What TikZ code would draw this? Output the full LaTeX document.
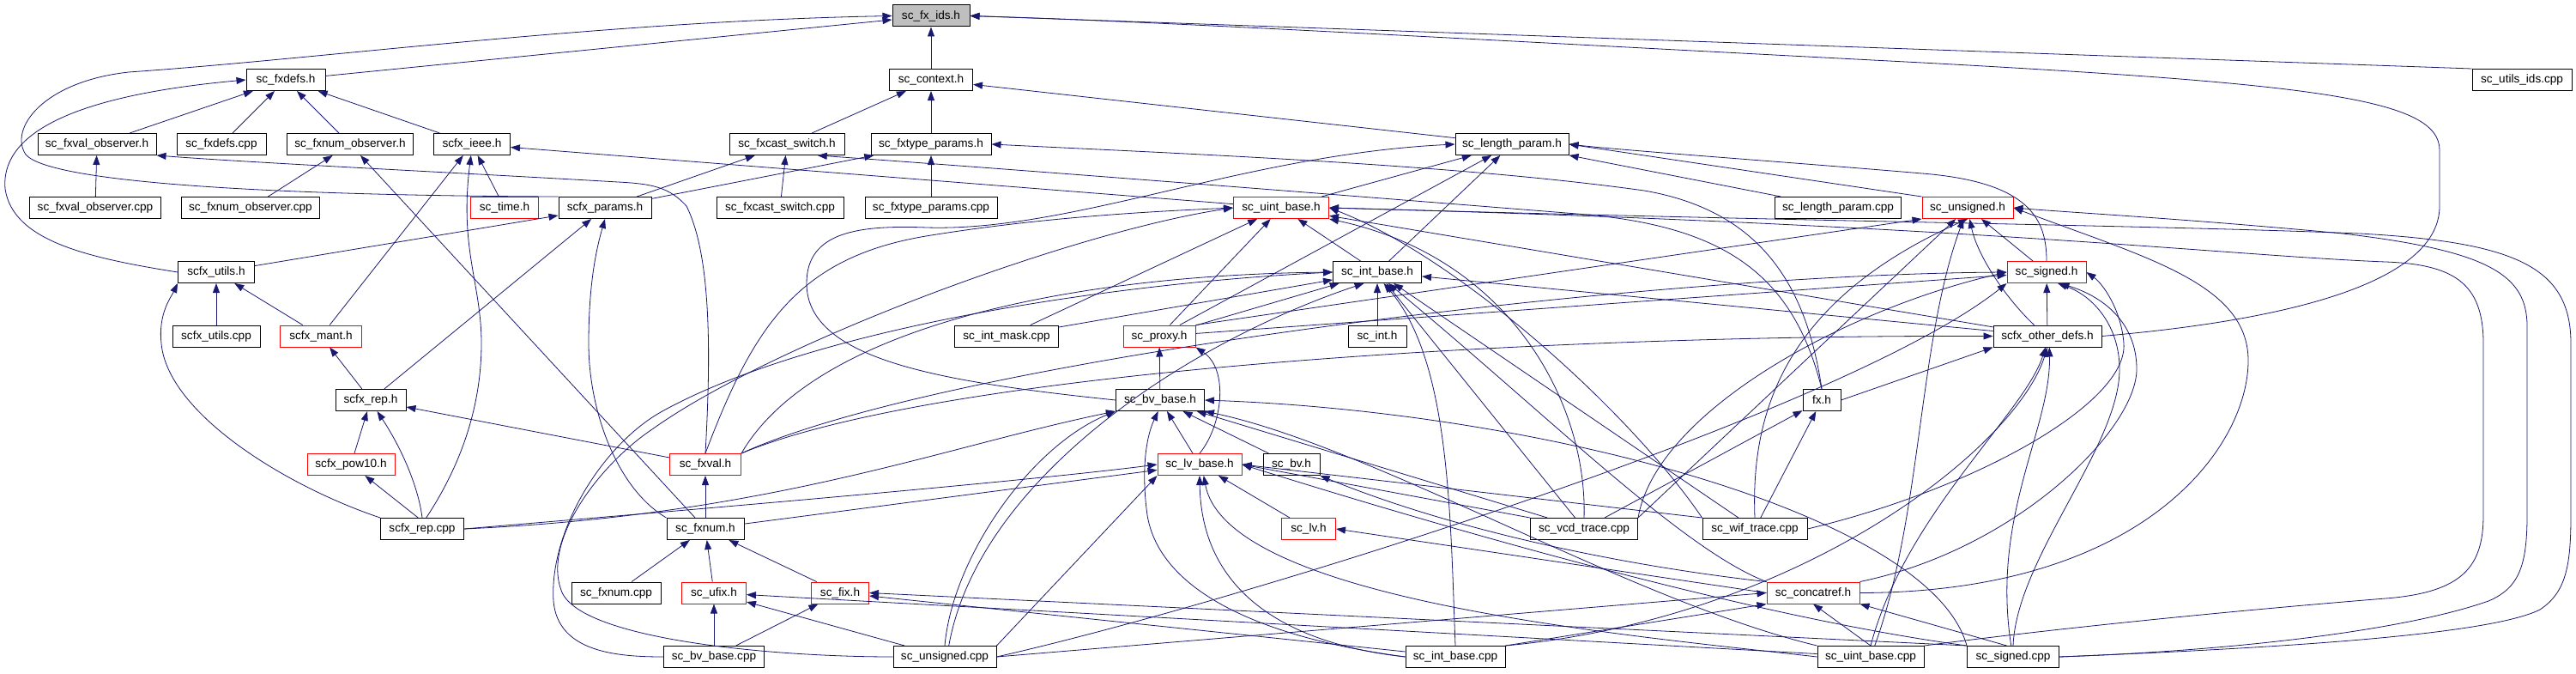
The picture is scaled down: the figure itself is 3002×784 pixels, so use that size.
\documentclass[tikz,border=0pt]{standalone}
\usepackage{fontspec}
\setmainfont{Liberation Sans}
\usetikzlibrary{arrows.meta}
\definecolor{EdgeNavy}{HTML}{191970}
\definecolor{RootGrey}{HTML}{BFBFBF}
\definecolor{TruncRed}{HTML}{FF0000}

\begin{document}
\begin{tikzpicture}[
    x=1pt, y=-1pt,
    font=\fontsize{13.6}{15}\selectfont,
    file/.style={draw=black, fill=white, line width=1pt, minimum height=25pt,
                 inner sep=0pt, text=black},
    trunc/.style={file, draw=TruncRed},
    root/.style={file, fill=RootGrey},
    inc/.style={-{Triangle[length=11pt,width=8pt]}, draw=EdgeNavy, line width=0.8pt}
]
\fill[white] (0,0) rectangle (3002,784);
\useasboundingbox (0,0) rectangle (3002,784);

% Root header
\node[root, minimum width=90pt] (fxids) at (1085,18.5) {sc\_fx\_ids.h};

% Fixed-point headers
\node[file, minimum width=92pt] (fxdefs) at (333,93) {sc\_fxdefs.h};
\node[file, minimum width=97pt] (context) at (1085,93) {sc\_context.h};
\node[file, minimum width=116pt] (utilsids) at (2939,93) {sc\_utils\_ids.cpp};
\node[file, minimum width=138pt] (fxvalobs) at (113,168) {sc\_fxval\_observer.h};
\node[file, minimum width=104pt] (fxdefscpp) at (258,168) {sc\_fxdefs.cpp};
\node[file, minimum width=147pt] (fxnumobs) at (408,168) {sc\_fxnum\_observer.h};
\node[file, minimum width=89pt] (ieee) at (550,168) {scfx\_ieee.h};
\node[file, minimum width=134pt] (castsw) at (917,168) {sc\_fxcast\_switch.h};
\node[file, minimum width=140pt] (typeparams) at (1085,168) {sc\_fxtype\_params.h};
\node[file, minimum width=132pt] (lenparam) at (1762,168) {sc\_length\_param.h};
\node[file, minimum width=153pt] (fxvalobscpp) at (111,242) {sc\_fxval\_observer.cpp};
\node[file, minimum width=161pt] (fxnumobscpp) at (292,242) {sc\_fxnum\_observer.cpp};
\node[trunc, minimum width=79pt] (time) at (588,242) {sc\_time.h};
\node[file, minimum width=108pt] (params) at (705,242) {scfx\_params.h};
\node[file, minimum width=148pt] (castswcpp) at (909,242) {sc\_fxcast\_switch.cpp};
\node[file, minimum width=154pt] (typeparamscpp) at (1085,242) {sc\_fxtype\_params.cpp};
\node[trunc, minimum width=111pt] (uintbase) at (1493,242) {sc\_uint\_base.h};
\node[file, minimum width=147pt] (lenparamcpp) at (2142,242) {sc\_length\_param.cpp};
\node[trunc, minimum width=106pt] (unsigned) at (2293,242) {sc\_unsigned.h};
\node[file, minimum width=89pt] (utils) at (252,317) {scfx\_utils.h};
\node[file, minimum width=103pt] (intbase) at (1605,317) {sc\_int\_base.h};
\node[trunc, minimum width=92pt] (signed) at (2385,317) {sc\_signed.h};
\node[file, minimum width=102pt] (utilscpp) at (252,391.5) {scfx\_utils.cpp};
\node[trunc, minimum width=95pt] (mant) at (374,391.5) {scfx\_mant.h};
\node[file, minimum width=121pt] (intmask) at (1173,391.5) {sc\_int\_mask.cpp};
\node[trunc, minimum width=84pt] (proxy) at (1351,391.5) {sc\_proxy.h};
\node[file, minimum width=68pt] (inth) at (1605,391.5) {sc\_int.h};
\node[file, minimum width=126pt] (otherdefs) at (2386,391.5) {scfx\_other\_defs.h};
\node[file, minimum width=82pt] (rep) at (432,466) {scfx\_rep.h};
\node[file, minimum width=103pt] (bvbase) at (1352,466) {sc\_bv\_base.h};
\node[file, minimum width=44pt] (fxh) at (2123,466) {fx.h};
\node[trunc, minimum width=102pt] (pow10) at (409,541) {scfx\_pow10.h};
\node[trunc, minimum width=83pt] (fxval) at (822,541) {sc\_fxval.h};
\node[trunc, minimum width=98pt] (lvbase) at (1398,541) {sc\_lv\_base.h};
\node[file, minimum width=66pt] (bvh) at (1505,541) {sc\_bv.h};
\node[file, minimum width=97pt] (repcpp) at (492,616) {scfx\_rep.cpp};
\node[file, minimum width=90pt] (fxnum) at (822,616) {sc\_fxnum.h};
\node[trunc, minimum width=63pt] (lvh) at (1525,616) {sc\_lv.h};
\node[file, minimum width=125pt] (vcd) at (1846,616) {sc\_vcd\_trace.cpp};
\node[file, minimum width=122pt] (wif) at (2045,616) {sc\_wif\_trace.cpp};
\node[file, minimum width=104pt] (fxnumcpp) at (718,690.5) {sc\_fxnum.cpp};
\node[trunc, minimum width=75pt] (ufix) at (832,690.5) {sc\_ufix.h};
\node[trunc, minimum width=67pt] (fix) at (979,690.5) {sc\_fix.h};
\node[trunc, minimum width=108pt] (concatref) at (2113,690.5) {sc\_concatref.h};
\node[file, minimum width=117pt] (bvbasecpp) at (832,765) {sc\_bv\_base.cpp};
\node[file, minimum width=120pt] (unsignedcpp) at (1101,765) {sc\_unsigned.cpp};
\node[file, minimum width=116pt] (intbasecpp) at (1696,765) {sc\_int\_base.cpp};
\node[file, minimum width=124pt] (uintbasecpp) at (2180,765) {sc\_uint\_base.cpp};
\node[file, minimum width=107pt] (signedcpp) at (2346,765) {sc\_signed.cpp};

% Includes of the root
\draw[inc] (fxdefs) -- (fxids);
\draw[inc] (context) -- (fxids);
\draw[inc] (utilsids.north west) -- (fxids.east);
\draw[inc] (params.north west) .. controls (350,228) and (60,215) .. (30,180)
    .. controls (10,150) and (50,95) .. (150,84)
    .. controls (380,68) and (700,25) .. (fxids.west);
\draw[inc] (otherdefs.east) .. controls (2700,370) and (2843,320) .. (2843,240)
    -- (2843,175) .. controls (2843,115) and (2700,98) .. (2240,73)
    .. controls (1700,45) and (1350,25) .. (fxids.east);

% Fixed-point layer
\draw[inc] (fxvalobs) -- (fxdefs);
\draw[inc] (fxdefscpp) -- (fxdefs);
\draw[inc] (fxnumobs) -- (fxdefs);
\draw[inc] (ieee) -- (fxdefs);
\draw[inc] (utils.west) .. controls (100,300) and (15,280) .. (6,220)
    .. controls (0,150) and (100,110) .. (fxdefs.west);
\draw[inc] (castsw) -- (context);
\draw[inc] (typeparams) -- (context);
\draw[inc] (lenparam) -- (context);
\draw[inc] (fxvalobscpp) -- (fxvalobs);
\draw[inc] (fxval.north) .. controls (828,420) and (830,300) .. (800,240)
    .. controls (780,218) and (760,214) .. (720,212)
    .. controls (550,202) and (300,190) .. (fxvalobs.south east);
\draw[inc] (fxnumobscpp) -- (fxnumobs);
\draw[inc] (fxnum) -- (fxnumobs);
\draw[inc] (time) -- (ieee);
\draw[inc] (mant) -- (ieee);
\draw[inc] (repcpp.70) .. controls (545,530) and (561,460) .. (561,400)
    .. controls (561,330) and (535,290) .. (ieee.265);
\draw[inc] (uintbase) -- (ieee);
\draw[inc] (params) -- (castsw);
\draw[inc] (castswcpp) -- (castsw);
\draw[inc] (params) -- (typeparams);
\draw[inc] (typeparamscpp) -- (typeparams);
\draw[inc] (fxh.north) .. controls (2105,330) and (2050,245) .. (1916,222)
    .. controls (1700,192) and (1400,180) .. (typeparams.east);
\draw[inc] (fxh.north) .. controls (2090,320) and (2010,265) .. (1850,250)
    .. controls (1500,222) and (1150,195) .. (castsw.-20);
\draw[inc] (lenparamcpp) -- (lenparam);
\draw[inc] (uintbase) -- (lenparam);
\draw[inc] (intbase) -- (lenparam);
\draw[inc] (unsigned.north west) -- (lenparam.east);
\draw[inc] (signed.north) .. controls (2385,255) and (2365,212) .. (2240,202)
    .. controls (2100,190) and (1900,176) .. (lenparam.east);
\draw[inc] (bvbase.west) .. controls (1100,445) and (940,420) .. (940,330)
    .. controls (940,270) and (1000,262) .. (1080,265)
    .. controls (1250,270) and (1450,180) .. (lenparam.west);
\draw[inc] (proxy) -- (lenparam);
\draw[inc] (utils) -- (params);
\draw[inc] (rep) -- (params);
\draw[inc] (fxnum.north west) .. controls (720,570) and (686,480) .. (686,400)
    .. controls (686,330) and (695,290) .. (params.south);
\draw[inc] (utilscpp) -- (utils);
\draw[inc] (mant) -- (utils);
\draw[inc] (repcpp.north west) .. controls (330,565) and (195,480) .. (188,400)
    .. controls (184,365) and (200,345) .. (utils.south west);
\draw[inc] (rep) -- (mant);
\draw[inc] (pow10) -- (rep);
\draw[inc] (repcpp.north) .. controls (488,570) and (470,525) .. (rep.-60);
\draw[inc] (fxval) -- (rep);
\draw[inc] (repcpp.110) -- (pow10);
\draw[inc] (fxnum) -- (fxval);
\draw[inc] (fxnumcpp) -- (fxnum);
\draw[inc] (ufix) -- (fxnum);
\draw[inc] (fix) -- (fxnum);
\draw[inc] (bvbasecpp) -- (ufix);
\draw[inc] (bvbasecpp) -- (fix);
\draw[inc] (unsignedcpp) -- (ufix);
\draw[inc] (intbasecpp) -- (fix);
\draw[inc] (signedcpp.north west) -- (fix.east);
\draw[inc] (uintbasecpp) -- (ufix);

% Integer and bit-vector layer
\draw[inc] (intbase) -- (uintbase);
\draw[inc] (proxy) -- (uintbase);
\draw[inc] (proxy) -- (intbase);
\draw[inc] (proxy) -- (signed);
\draw[inc] (proxy.north east) -- (unsigned.south west);
\draw[inc] (bvbase) -- (proxy);
\draw[inc] (lvbase.north) .. controls (1425,495) and (1432,430) .. (proxy.south east);
\draw[inc] (lvbase) -- (bvbase);
\draw[inc] (bvh) -- (bvbase);
\draw[inc] (lvh) -- (lvbase);
\draw[inc] (inth) -- (intbase);
\draw[inc] (intmask) -- (intbase);
\draw[inc] (intmask) -- (uintbase);
\draw[inc] (signed) -- (unsigned);
\draw[inc] (otherdefs) -- (signed);
\draw[inc] (otherdefs.140) .. controls (2340,350) and (2305,300) .. (unsigned.-80);
\draw[inc] (otherdefs) -- (intbase);
\draw[inc] (otherdefs) -- (uintbase);
\draw[inc] (fxh.east) -- (otherdefs.south west);
\draw[inc] (fxval.north east) .. controls (1100,430) and (1800,390) .. (otherdefs.west);
\draw[inc] (fxval.north) .. controls (878,380) and (930,300) .. (1079,275)
    .. controls (1220,252) and (1350,246) .. (uintbase.west);
\draw[inc] (fxval.north east) .. controls (950,380) and (1250,320) .. (intbase.west);
\draw[inc] (fxval.north east) .. controls (1100,420) and (1900,320) .. (signed.west);
\draw[inc] (fxnum) -- (lvbase);
\draw[inc] (repcpp.east) .. controls (900,600) and (1100,520) .. (bvbase.south west);
\draw[inc] (repcpp.east) .. controls (850,590) and (1200,560) .. (lvbase.west);

% Trace files
\draw[inc] (vcd) -- (fxh);
\draw[inc] (wif) -- (fxh);
\draw[inc] (vcd.north west) -- (lvbase.east);
\draw[inc] (vcd) -- (bvbase);
\draw[inc] (vcd) -- (intbase);
\draw[inc] (vcd.north) .. controls (1850,470) and (1760,300) .. (uintbase.south east);
\draw[inc] (vcd.north east) .. controls (1930,480) and (2150,360) .. (signed.west);
\draw[inc] (vcd.north east) -- (unsigned);
\draw[inc] (wif) -- (intbase);
\draw[inc] (wif.north west) .. controls (1900,480) and (1700,300) .. (uintbase.east);
\draw[inc] (wif.north west) -- (lvbase.east);
\draw[inc] (wif.east) .. controls (2300,570) and (2480,470) .. (2475,400)
    .. controls (2472,360) and (2450,330) .. (signed.east);
\draw[inc] (wif.north) .. controls (2040,480) and (2080,350) .. (unsigned.south);

% Concatenation header
\draw[inc] (concatref.north west) .. controls (1900,660) and (1700,620) .. (bvh.south east);
\draw[inc] (concatref.west) -- (lvh.east);
\draw[inc] (concatref.north west) .. controls (1960,640) and (1800,480) .. (intbase.-45);
\draw[inc] (concatref.north east) .. controls (2350,640) and (2490,500) .. (2490,430)
    .. controls (2490,375) and (2450,345) .. (signed.-40);
\draw[inc] (concatref.east) .. controls (2500,690) and (2620,520) .. (2620,420)
    .. controls (2620,330) and (2500,300) .. (unsigned.east);

% Implementation files
\draw[inc] (unsignedcpp.west) .. controls (900,765) and (680,745) .. (655,690)
    .. controls (630,630) and (700,540) .. (760,500)
    .. controls (900,400) and (1250,270) .. (uintbase.west);
\draw[inc] (bvbasecpp.west) .. controls (720,765) and (650,760) .. (645,700)
    .. controls (640,620) and (700,520) .. (770,480)
    .. controls (950,380) and (1300,330) .. (intbase.west);
\draw[inc] (unsignedcpp.north) .. controls (1110,650) and (1200,520) .. (bvbase.south west);
\draw[inc] (unsignedcpp.north east) -- (lvbase.south west);
\draw[inc] (unsignedcpp.east) -- (concatref.west);
\draw[inc] (unsignedcpp.70) .. controls (1140,560) and (1380,400) .. (intbase.220);
\draw[inc] (unsignedcpp.east) .. controls (1450,700) and (2150,480) .. (signed.south west);
\draw[inc] (intbasecpp.north) .. controls (1690,600) and (1690,420) .. (intbase.-60);
\draw[inc] (intbasecpp.north east) -- (concatref.south west);
\draw[inc] (intbasecpp.west) .. controls (1450,740) and (1350,680) .. (1337,600)
    .. controls (1330,550) and (1335,510) .. (bvbase.-100);
\draw[inc] (intbasecpp.west) .. controls (1500,750) and (1400,690) .. (lvbase.south);
\draw[inc] (intbasecpp.north east) .. controls (2100,720) and (2350,520) .. (otherdefs.south);
\draw[inc] (uintbasecpp.north east) .. controls (2450,725) and (2680,705) .. (2780,697)
    .. controls (2870,690) and (2894,660) .. (2894,600) -- (2894,400)
    .. controls (2894,330) and (2860,308) .. (2780,305)
    .. controls (2600,298) and (2300,262) .. (uintbase.east);
\draw[inc] (uintbasecpp.north) -- (concatref.south);
\draw[inc] (uintbasecpp.west) .. controls (1900,740) and (1430,700) .. (lvbase.-70);
\draw[inc] (uintbasecpp.north west) .. controls (1900,700) and (1600,520) .. (bvbase.south east);
\draw[inc] (uintbasecpp.north) .. controls (2220,600) and (2360,480) .. (otherdefs.-100);
\draw[inc] (uintbasecpp.70) .. controls (2240,600) and (2235,400) .. (unsigned.-110);
\draw[inc] (signedcpp.north) .. controls (2350,650) and (2470,520) .. (2470,430)
    .. controls (2470,380) and (2440,345) .. (signed.-45);
\draw[inc] (signedcpp.120) -- (concatref.south east);
\draw[inc] (signedcpp.100) .. controls (2320,600) and (2390,500) .. (otherdefs.-80);
\draw[inc] (signedcpp.east) .. controls (2600,758) and (2800,735) .. (2900,700)
    .. controls (2935,685) and (2945,660) .. (2945,600) -- (2945,380)
    .. controls (2945,320) and (2900,292) .. (2730,272)
    .. controls (2550,255) and (2420,248) .. (unsigned.east);
\draw[inc] (signedcpp.east) .. controls (2650,755) and (2900,740) .. (2960,710)
    .. controls (2990,690) and (2996,660) .. (2996,600) -- (2996,400)
    .. controls (2996,310) and (2930,282) .. (2750,272)
    .. controls (2500,262) and (2100,258) .. (uintbase.east);
\draw[inc] (signedcpp.north west) .. controls (2050,720) and (1700,620) .. (lvbase.east);
\draw[inc] (signedcpp.north west) .. controls (2250,600) and (1800,480) .. (bvbase.east);

\end{tikzpicture}
\end{document}
